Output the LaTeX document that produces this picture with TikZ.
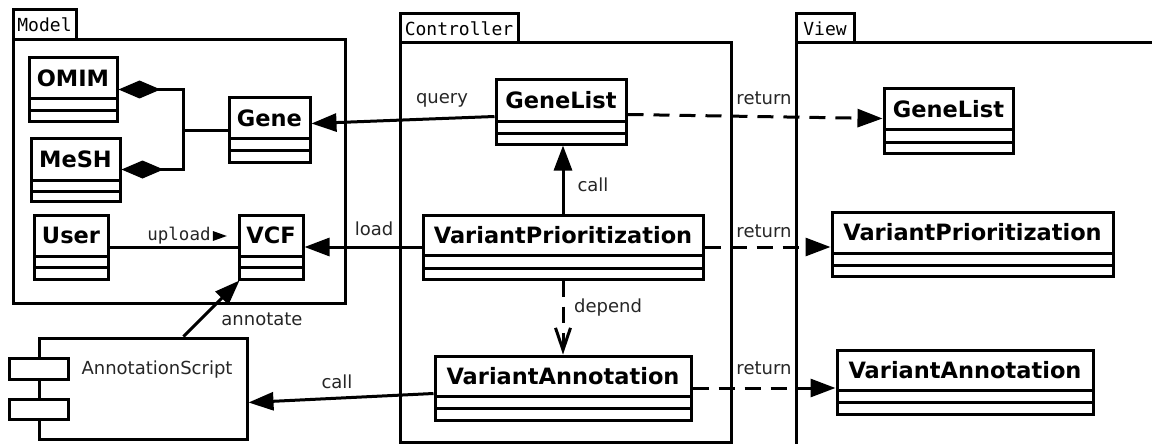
\documentclass[tikz,border=0pt]{standalone}
\usepackage{fontspec}
\setmainfont{DejaVu Sans}
\newfontfamily\monof{DejaVu Sans Mono}
\usetikzlibrary{arrows.meta,fit,calc}
\tikzset{
 lw/.style={line width=3pt},
 box/.style={draw, lw, inner sep=0pt, fill=white},
 clsname/.style={font=\fontsize{22.5}{27}\selectfont\bfseries, inner sep=0pt},
 lbl/.style={font=\fontsize{18}{21}\selectfont, text=black!85, inner sep=0pt},
 tabtxt/.style={font=\monof\fontsize{18}{21}\selectfont, inner sep=0pt},
 conn/.style={lw, line join=miter},
 tri/.style={-{Triangle[length=25pt,width=18pt]}},
 dsh/.style={dash pattern=on 16pt off 10pt},
 comp/.style={{Diamond[length=42pt,width=18pt]}-},
}
\newcommand\umlclass[8]{%
 \node[box, fit={(#2,#3) (#4,#5)}] (#1) {};
 \draw[lw] (#2,#6) -- (#4,#6) (#2,#7) -- (#4,#7);
 \node[clsname] (#1-n) at ({(#2+#4)/2},{(#3+#6)/2}) {#8};
}
\begin{document}
\begin{tikzpicture}[x=1pt,y=-1pt]
\useasboundingbox[fill=white] (0,0) rectangle (1152,444);
\clip (0,0) rectangle (1152,444);
% packages
\node[box, fit={(13,40) (345,303)}] (model) {};
\node[box, fit={(13,10) (76,40)}] (model-tab) {};
\node[tabtxt] (model-t) at (model-tab.center) {Model};
\node[box, fit={(400,43) (731,442)}] (ctrl) {};
\node[box, fit={(400,14) (518,43)}] (ctrl-tab) {};
\node[tabtxt] (ctrl-t) at (ctrl-tab.center) {Controller};
\node[box, fit={(796,43) (1180,470)}] (view) {};
\node[box, fit={(796,14) (854,43)}] (view-tab) {};
\node[tabtxt] (view-t) at (view-tab.center) {View};
% classes
\umlclass{omim}{29}{58}{117}{121}{99}{110}{OMIM}
\umlclass{gene}{229}{98}{310}{162}{138}{150}{Gene}
\umlclass{mesh}{31}{138}{120}{201}{180}{191}{MeSH}
\umlclass{user}{34}{215}{108}{279}{256}{267}{User}
\umlclass{vcf}{239}{215}{303}{279}{256}{267}{VCF}
\umlclass{cgl}{496}{80}{626}{144}{121}{133}{GeneList}
\umlclass{vp}{423}{215}{703}{279}{255}{268}{VariantPrioritization}
\umlclass{va}{435}{356}{691}{420}{396}{408}{VariantAnnotation}
\umlclass{vgl}{884}{89}{1013}{153}{129}{142}{GeneList}
\umlclass{vvp}{832}{212}{1113}{276}{253}{265}{VariantPrioritization}
\umlclass{vva}{837}{350}{1093}{414}{390}{402}{VariantAnnotation}
% component
\node[box, fit={(39,338) (247,439)}] (as) {};
\node[box, fit={(9,358) (68,379)}] (as-p1) {};
\node[box, fit={(9,399) (68,419)}] (as-p2) {};
\node[lbl] (as-t) at (157,370) {AnnotationScript};
% connectors
\coordinate (jn) at (183,130);
\draw[conn, comp] (omim.east) -| (jn);
\draw[conn, comp] (mesh.east) -| (jn);
\draw[conn] (jn) -- (gene.west);
\draw[conn] (user.east) -- (vcf.west);
\node[font=\monof\fontsize{17.5}{20}\selectfont, text=black!85, inner sep=0pt] (upl) at (179,236) {upload};
\fill ([xshift=2pt]upl.east) ++(0,-5) -- ++(14,5) -- ++(-14,5) -- cycle;
\draw[conn, tri] ($(cgl.north west)+(0,38)$) -- ($(gene.north east)+(0,27)$);
\node[lbl] (q-l) at (442,100) {query};
\draw[conn, tri] (vp.north) -- (vp.north |- cgl.south);
\node[lbl] (c1-l) at (593,185) {call};
\draw[conn, tri] (vp.west) -- (vcf.east);
\node[lbl] (ld-l) at (374,229) {load};
\draw[conn, dsh, tri] ($(cgl.north east)+(0,36)$) -- ($(vgl.north west)+(0,31)$);
\node[lbl] (r1-l) at (764,98) {return};
\draw[conn, dsh, tri] (vp.east) -- (vp.east -| vvp.west);
\node[lbl] (r2-l) at (764,231) {return};
\draw[conn, dsh, tri] (va.east) -- (va.east -| vva.west);
\node[lbl] (r3-l) at (764,368) {return};
\draw[conn, dsh, -{Straight Barb[length=22pt,width=15pt]}] (vp.south) -- (vp.south |- va.north);
\node[lbl] (dp-l) at (608,308) {depend};
\draw[conn, tri] ($(va.north west)+(0,39)$) -- ($(as.east)+(0,14)$);
\node[lbl] (c2-l) at (337,382) {call};
\draw[conn, tri] ($(as.north west)+(146,0)$) -- ($(vcf.south west)+(2,0)$);
\node[lbl] (an-l) at (262,319) {annotate};
\end{tikzpicture}
\end{document}
